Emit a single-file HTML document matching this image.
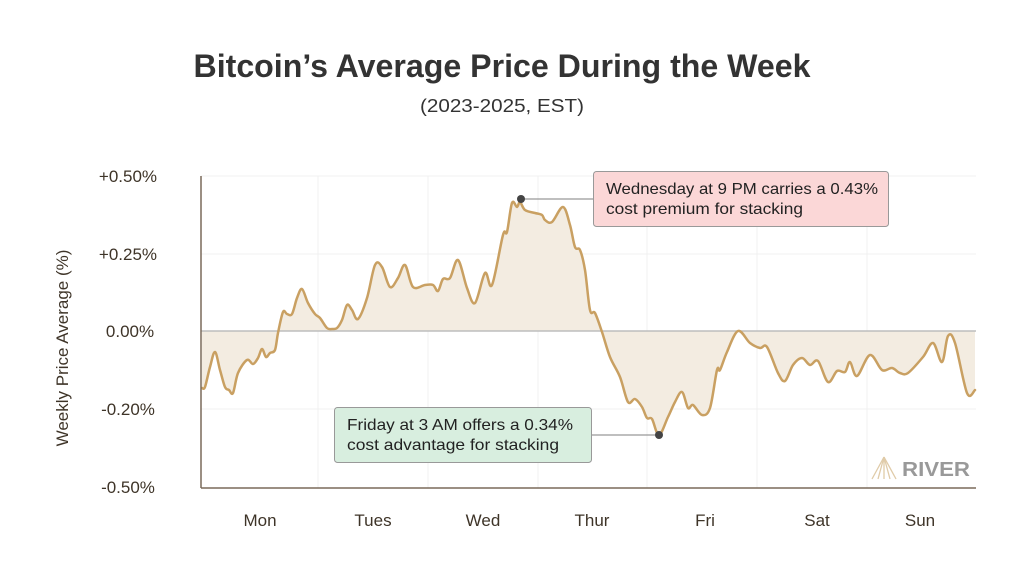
<!DOCTYPE html>
<html><head><meta charset="utf-8"><style>
html,body{margin:0;padding:0;background:#fff;}
body{width:1024px;height:576px;overflow:hidden;position:relative;font-family:"Liberation Sans",sans-serif;}
</style></head><body>
<svg width="1024" height="576" xmlns="http://www.w3.org/2000/svg" style="position:absolute;left:0;top:0">
<text x="502" y="77" text-anchor="middle" font-family="Liberation Sans" font-weight="bold" font-size="32" fill="#333" textLength="617" lengthAdjust="spacingAndGlyphs">Bitcoin’s Average Price During the Week</text>
<text x="502" y="112" text-anchor="middle" font-family="Liberation Sans" font-size="18" fill="#333" textLength="164" lengthAdjust="spacingAndGlyphs">(2023-2025, EST)</text>
<g stroke="#f1f1f1" stroke-width="1">
<line x1="201" y1="176" x2="976" y2="176"/><line x1="201" y1="254" x2="976" y2="254"/><line x1="201" y1="409" x2="976" y2="409"/>
<line x1="318" y1="176" x2="318" y2="488"/><line x1="428" y1="176" x2="428" y2="488"/><line x1="538" y1="176" x2="538" y2="488"/><line x1="647" y1="176" x2="647" y2="488"/><line x1="757" y1="176" x2="757" y2="488"/><line x1="867" y1="176" x2="867" y2="488"/>
</g>
<g font-family="Liberation Sans" font-size="17" fill="#3e3428" text-anchor="middle">
<text x="128" y="182">+0.50%</text><text x="128" y="260">+0.25%</text><text x="130" y="337">0.00%</text><text x="128" y="415">-0.20%</text><text x="128" y="493">-0.50%</text>
<text x="260" y="526">Mon</text><text x="373" y="526">Tues</text><text x="483" y="526">Wed</text><text x="592" y="526">Thur</text><text x="705" y="526">Fri</text><text x="817" y="526">Sat</text><text x="920" y="526">Sun</text>
</g>
<text transform="translate(68,348) rotate(-90)" text-anchor="middle" font-family="Liberation Sans" font-size="17" fill="#3e3428">Weekly Price Average (%)</text>
<path id="fillp" fill="#f3ece1" d=""/>
<line x1="201" y1="331" x2="976" y2="331" stroke="#bdbdbd" stroke-width="1.5"/>
<path id="linep" fill="none" stroke="#c9a062" stroke-width="2.5" stroke-linejoin="round" stroke-linecap="round" d=""/>
<line x1="201" y1="176" x2="201" y2="488" stroke="#7a6a5a" stroke-width="1.5"/>
<line x1="201" y1="488" x2="976" y2="488" stroke="#7a6a5a" stroke-width="1.5"/>
<line x1="521" y1="199" x2="593" y2="199" stroke="#999" stroke-width="1.2"/>
<circle cx="521" cy="199" r="4" fill="#444"/>
<rect x="593.5" y="171.5" width="295" height="55" rx="3" fill="#fbd7d7" stroke="#999"/>
<text x="606" y="194" font-family="Liberation Sans" font-size="16" fill="#222" textLength="272" lengthAdjust="spacingAndGlyphs">Wednesday at 9 PM carries a 0.43%</text>
<text x="606" y="214" font-family="Liberation Sans" font-size="16" fill="#222" textLength="197" lengthAdjust="spacingAndGlyphs">cost premium for stacking</text>
<line x1="591" y1="435" x2="659" y2="435" stroke="#999" stroke-width="1.2"/>
<circle cx="659" cy="435" r="4" fill="#444"/>
<rect x="334.5" y="407.5" width="257" height="55" rx="3" fill="#d8eedf" stroke="#999"/>
<text x="347" y="430" font-family="Liberation Sans" font-size="16" fill="#222" textLength="226" lengthAdjust="spacingAndGlyphs">Friday at 3 AM offers a 0.34%</text>
<text x="347" y="450" font-family="Liberation Sans" font-size="16" fill="#222" textLength="212" lengthAdjust="spacingAndGlyphs">cost advantage for stacking</text>
<g stroke="#e0cba8" stroke-width="1.3">
<line x1="884" y1="457" x2="872" y2="479"/><line x1="884" y1="457" x2="878" y2="479"/><line x1="884" y1="457" x2="884" y2="479"/><line x1="884" y1="457" x2="890" y2="479"/><line x1="884" y1="457" x2="896" y2="479"/>
</g>
<text x="902" y="476" font-family="Liberation Sans" font-weight="bold" font-size="20" fill="#999" textLength="68" lengthAdjust="spacingAndGlyphs">RIVER</text>
</svg>
<script>
var s="202,388 205,387 210,367 215,352 220,370 225,387 229,390 233,393 238,373 247,360 253,364 258,358 262,349 266,357 270,353 275,350 278,333 283,312 287,314 292,314 297,298 302,289 308,303 315,314 320,318 327,328 332,329 337,328 342,320 347,305 352,310 358,319 367,298 375,265 382,267 390,287 398,278 405,265 413,287 425,285 433,285 438,291 443,279 450,278 458,260 467,288 475,303 485,273 492,285 503,235 507,232 512,203 517,207 520,202 525,210 535,213 542,215 545,220 552,222 563,207 570,225 575,247 580,250 585,270 590,310 595,313 602,332 610,357 620,377 628,402 635,399 642,407 647,418 652,419 659,435 668,417 675,402 682,392 688,408 693,405 702,415 710,408 717,370 720,370 727,352 738,331 750,343 760,348 767,347 778,373 785,381 793,365 802,358 810,365 818,361 828,382 837,371 845,372 850,362 857,376 870,355 882,370 892,368 900,373 908,373 923,357 933,343 942,362 948,336 955,343 967,393 975,390";
var p=s.split(" ").map(function(t){var a=t.split(",");return [+a[0],+a[1]];});
var d="M"+p[0][0]+","+p[0][1];
for(var i=0;i<p.length-1;i++){var p0=p[Math.max(0,i-1)],p1=p[i],p2=p[i+1],p3=p[Math.min(p.length-1,i+2)];
var c1x=p1[0]+(p2[0]-p0[0])/6,c1y=p1[1]+(p2[1]-p0[1])/6,c2x=p2[0]-(p3[0]-p1[0])/6,c2y=p2[1]-(p3[1]-p1[1])/6;
d+=" C"+c1x.toFixed(1)+","+c1y.toFixed(1)+" "+c2x.toFixed(1)+","+c2y.toFixed(1)+" "+p2[0]+","+p2[1];}
document.getElementById("linep").setAttribute("d",d);
document.getElementById("fillp").setAttribute("d","M202,331 L"+p[0][0]+","+p[0][1]+d.slice(d.indexOf(" C"))+" L975,331 Z");
</script>
</body></html>
